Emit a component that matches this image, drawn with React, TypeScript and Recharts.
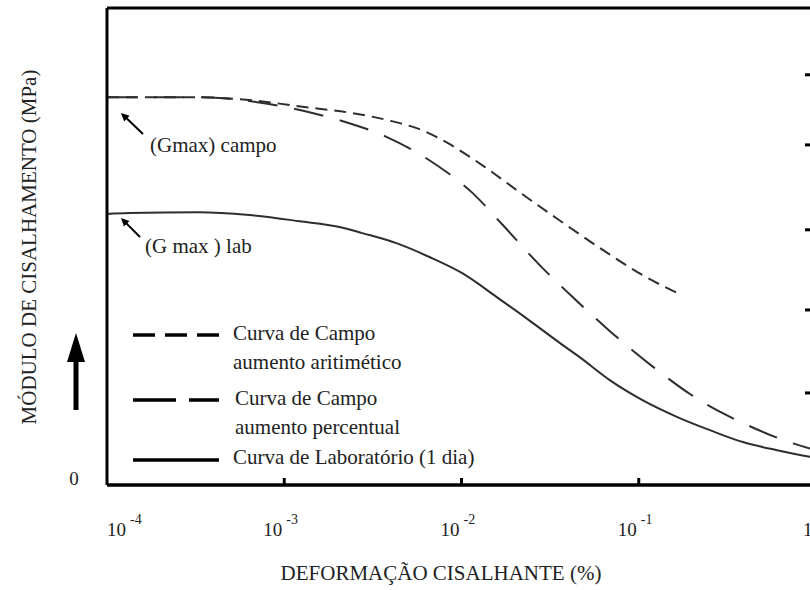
import { LineChart, Line, XAxis, YAxis, ReferenceLine, Legend } from 'recharts';

// deformação cisalhante (%) e módulo (escala relativa, 0..100)
const X_TICKS = [0.0001, 0.001, 0.01, 0.1, 1];
const X_EXPONENTS = ['-4', '-3', '-2', '-1', '0'];
const Y_DOMAIN = [0, 100];
const RIGHT_TICKS = [19.3, 36.7, 53.5, 71.3, 86.0];

const STRAIN_ARIT = [0.0001, 0.000331, 0.000634, 0.00133, 0.00239, 0.00382, 0.00634, 0.00834, 0.0135, 0.0205, 0.0335, 0.0626, 0.105, 0.175];
const G_ARIT = [81.3, 81.3, 80.7, 79.2, 78.0, 76.5, 74.0, 71.7, 66.7, 61.8, 56.2, 49.3, 44.0, 39.8];

const STRAIN_PERC = [0.0001, 0.000331, 0.000634, 0.00144, 0.00221, 0.00377, 0.00695, 0.0114, 0.0171, 0.0276, 0.0435, 0.0695, 0.123, 0.224, 0.397, 0.731, 1.0];
const G_PERC = [81.3, 81.3, 80.5, 78.0, 76.1, 73.0, 67.5, 61.4, 54.5, 46.1, 39.0, 32.1, 24.5, 17.6, 12.8, 8.8, 7.3];

const STRAIN_LAB = [0.0001, 0.000133, 0.000331, 0.000634, 0.00122, 0.00205, 0.00276, 0.00429, 0.00659, 0.0101, 0.0158, 0.0252, 0.0358, 0.0464, 0.0686, 0.105, 0.164, 0.252, 0.387, 0.602, 0.925, 1.0];
const G_LAB = [56.8, 57.0, 57.2, 56.6, 55.3, 54.1, 52.8, 50.7, 47.8, 44.4, 39.4, 34.0, 29.8, 26.8, 22.0, 17.8, 14.3, 11.5, 9.0, 7.3, 5.9, 5.7];

const toRows = (strain: number[], g: number[]) => strain.map((s, i) => ({ strain: s, g: g[i] }));

// a curva de laboratório fica no eixo direito (mesma escala) para que ele seja desenhado
const SERIES = [
  { key: 'arit', axis: 'left', lines: ['Curva de Campo', 'aumento aritimético'], data: toRows(STRAIN_ARIT, G_ARIT), dash: '12 7', legendDash: '22 10' },
  { key: 'perc', axis: 'left', lines: ['Curva de Campo', 'aumento percentual'], data: toRows(STRAIN_PERC, G_PERC), dash: '30 17', legendDash: '43 13' },
  { key: 'lab', axis: 'right', lines: ['Curva de Laboratório (1 dia)'], data: toRows(STRAIN_LAB, G_LAB), dash: undefined, legendDash: undefined },
];

const FONT = '"Liberation Serif", "Times New Roman", serif';
const INK = '#000';
const CURVE = '#2e2e2e';

function XTick(props: any) {
  const { x, y, index } = props;
  // primeiro rótulo encostado no eixo, último cortado na borda
  const shift = index === 0 ? 21 : index === X_TICKS.length - 1 ? 8 : 0;
  return (
    <g fontFamily={FONT} fill="#222">
      {index > 0 && <line x1={x} x2={x} y1={y} y2={y - 7} stroke={INK} strokeWidth={3} />}
      <text x={x - 2 + shift} y={y + 51} textAnchor="end" fontSize={19}>10</text>
      <text x={x + 2 + shift} y={y + 39} textAnchor="start" fontSize={14}>{X_EXPONENTS[index]}</text>
    </g>
  );
}

function ZeroTick(props: any) {
  const { x, y } = props;
  return (
    <text x={x - 33} y={y} textAnchor="middle" fontSize={19} fontFamily={FONT} fill="#222">0</text>
  );
}

// marcas curtas voltadas para dentro no eixo direito
function RightTick(props: any) {
  const { x, y } = props;
  return <line x1={x} x2={x - 11} y1={y} y2={y} stroke={INK} strokeWidth={3} />;
}

function LegendBox() {
  const rows = [
    { lineY: 20, textX: 108, textY: [18, 47] },
    { lineY: 85, textX: 110, textY: [83, 112] },
    { lineY: 145, textX: 108, textY: [142] },
  ];
  return (
    <svg width={420} height={165} style={{ display: 'block' }}>
      {SERIES.map((s, i) => (
        <g key={s.key}>
          <line x1={8} x2={94} y1={rows[i].lineY} y2={rows[i].lineY} stroke={INK} strokeWidth={3.5} strokeDasharray={s.legendDash} />
          {s.lines.map((t, j) => (
            <text key={j} x={rows[i].textX} y={rows[i].textY[j]} dominantBaseline="central" fontSize={21} fontFamily={FONT} fill="#222">
              {t}
            </text>
          ))}
        </g>
      ))}
    </svg>
  );
}

function Pointer({ tipX, tipY, tailX, tailY }: { tipX: number; tipY: number; tailX: number; tailY: number }) {
  const ang = Math.atan2(tipY - tailY, tipX - tailX);
  const len = 9;
  const w = 0.45;
  const p1 = [tipX - len * Math.cos(ang - w), tipY - len * Math.sin(ang - w)];
  const p2 = [tipX - len * Math.cos(ang + w), tipY - len * Math.sin(ang + w)];
  return (
    <g>
      <line x1={tailX} y1={tailY} x2={tipX - 3 * Math.cos(ang)} y2={tipY - 3 * Math.sin(ang)} stroke={INK} strokeWidth={2} />
      <polygon points={`${tipX},${tipY} ${p1[0]},${p1[1]} ${p2[0]},${p2[1]}`} fill={INK} />
    </g>
  );
}

export default function App() {
  return (
    <div style={{ position: 'fixed', left: 0, top: 0, width: 810, height: 590, overflow: 'hidden', background: '#fff', fontFamily: FONT }}>
      <LineChart width={900} height={590} margin={{ top: 8, right: 24, bottom: 75, left: 47 }}>
        <XAxis
          dataKey="strain"
          type="number"
          scale="log"
          domain={[X_TICKS[0], X_TICKS[X_TICKS.length - 1]]}
          ticks={X_TICKS}
          allowDataOverflow
          height={30}
          tickSize={0}
          tickMargin={0}
          tickLine={false}
          axisLine={{ stroke: INK, strokeWidth: 3.5 }}
          tick={XTick}
        />
        <YAxis
          yAxisId="left"
          type="number"
          domain={Y_DOMAIN}
          allowDataOverflow
          ticks={[0]}
          width={60}
          tickSize={0}
          tickMargin={0}
          tickLine={false}
          axisLine={{ stroke: INK, strokeWidth: 3 }}
          tick={ZeroTick}
        />
        <YAxis
          yAxisId="right"
          orientation="right"
          type="number"
          domain={Y_DOMAIN}
          allowDataOverflow
          ticks={RIGHT_TICKS}
          width={60}
          tickSize={0}
          tickMargin={0}
          tickLine={false}
          tick={RightTick}
          axisLine={{ stroke: INK, strokeWidth: 3 }}
        />
        <ReferenceLine yAxisId="left" y={Y_DOMAIN[1]} stroke={INK} strokeWidth={3} />
        {SERIES.map((s) => (
          <Line
            key={s.key}
            yAxisId={s.axis}
            data={s.data}
            dataKey="g"
            name={s.lines.join(' ')}
            type="monotone"
            stroke={CURVE}
            strokeWidth={2}
            strokeDasharray={s.dash}
            dot={false}
            activeDot={false}
            isAnimationActive={false}
          />
        ))}
        <Legend
          layout="vertical"
          align="center"
          verticalAlign="middle"
          wrapperStyle={{ left: 125, top: 315, width: 420, height: 165 }}
          content={() => <LegendBox />}
        />
      </LineChart>

      <svg width={810} height={590} style={{ position: 'absolute', left: 0, top: 0, pointerEvents: 'none' }}>
        <g fontFamily={FONT} fill="#222" fontSize={21}>
          <text transform="rotate(-90)" x={-247} y={29} textAnchor="middle" dominantBaseline="central">
            MÓDULO DE CISALHAMENTO (MPa)
          </text>
          <text x={441} y={580} textAnchor="middle">DEFORMAÇÃO CISALHANTE (%)</text>
          <text x={150} y={152}>(Gmax) campo</text>
          <text x={145} y={253}>(G max ) lab</text>
        </g>
        <Pointer tipX={121} tipY={113} tailX={143} tailY={134} />
        <Pointer tipX={121} tipY={218} tailX={140} tailY={237} />
        <line x1={76} x2={76} y1={410} y2={358} stroke={INK} strokeWidth={5} />
        <polygon points="76,333 67,362 85,362" fill={INK} />
      </svg>
    </div>
  );
}
